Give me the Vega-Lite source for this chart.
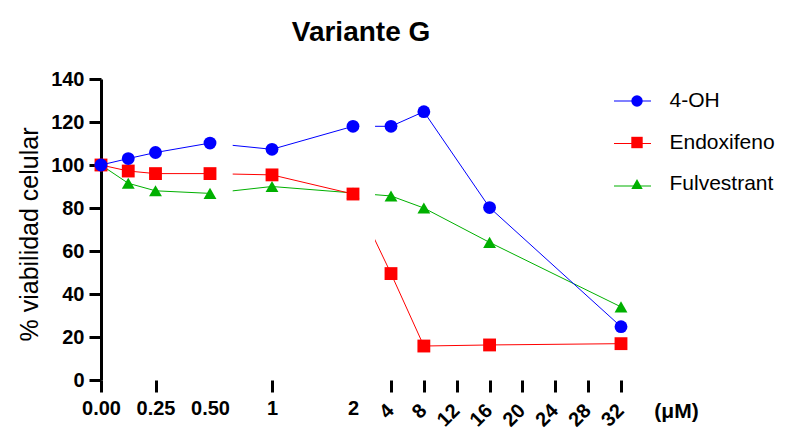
{
  "$schema": "https://vega.github.io/schema/vega-lite/v6.json",
  "autosize": {"type": "none"},
  "padding": {"left": 101, "top": 79, "right": 176, "bottom": 48},
  "width": 520,
  "height": 301,
  "background": "white",
  "config": {"view": {"stroke": null}, "font": "Liberation Sans"},
  "title": {"text": "Variante G", "fontSize": 28, "fontWeight": "bold", "font": "Liberation Sans", "color": "black", "anchor": "middle", "frame": "group", "baseline": "alphabetic", "offset": 0},
  "datasets": {
    "viab": [
      {"series": "Fulvestrant", "dose": 0, "v": 100},
      {"series": "Fulvestrant", "dose": 0.125, "v": 91.5},
      {"series": "Fulvestrant", "dose": 0.25, "v": 88},
      {"series": "Fulvestrant", "dose": 0.5, "v": 86.8},
      {"series": "Fulvestrant", "dose": 1, "v": 90},
      {"series": "Fulvestrant", "dose": 2, "v": 87},
      {"series": "Fulvestrant", "dose": 4, "v": 85.6},
      {"series": "Fulvestrant", "dose": 8, "v": 80},
      {"series": "Fulvestrant", "dose": 16, "v": 64},
      {"series": "Fulvestrant", "dose": 32, "v": 34},
      {"series": "Endoxifeno", "dose": 0, "v": 100},
      {"series": "Endoxifeno", "dose": 0.125, "v": 97.2},
      {"series": "Endoxifeno", "dose": 0.25, "v": 96},
      {"series": "Endoxifeno", "dose": 0.5, "v": 96},
      {"series": "Endoxifeno", "dose": 1, "v": 95.4},
      {"series": "Endoxifeno", "dose": 2, "v": 86.5},
      {"series": "Endoxifeno", "dose": 4, "v": 49.5},
      {"series": "Endoxifeno", "dose": 8, "v": 15.8},
      {"series": "Endoxifeno", "dose": 16, "v": 16.3},
      {"series": "Endoxifeno", "dose": 32, "v": 16.9},
      {"series": "4-OH", "dose": 0, "v": 100},
      {"series": "4-OH", "dose": 0.125, "v": 103},
      {"series": "4-OH", "dose": 0.25, "v": 105.8},
      {"series": "4-OH", "dose": 0.5, "v": 110.2},
      {"series": "4-OH", "dose": 1, "v": 107.3},
      {"series": "4-OH", "dose": 2, "v": 118},
      {"series": "4-OH", "dose": 4, "v": 118},
      {"series": "4-OH", "dose": 8, "v": 124.8},
      {"series": "4-OH", "dose": 16, "v": 80.2},
      {"series": "4-OH", "dose": 32, "v": 24.8}
    ],
    "breaks": [
      {"start": 0.5, "end": 0.683},
      {"start": 2, "end": 3.16}
    ],
    "segments": [
      {"start": 0, "end": 0.5},
      {"start": 0.683, "end": 2},
      {"start": 3.16, "end": 32}
    ],
    "caps": [
      {"at": 0.5},
      {"at": 0.683},
      {"at": 2},
      {"at": 3.16}
    ]
  },
  "encoding": {
    "x": {
      "field": "dose",
      "type": "quantitative",
      "scale": {"domain": [0, 0.5, 1, 2, 4, 32], "range": [0, 109, 171, 252, 290, 520], "nice": false, "zero": false},
      "axis": {
        "values": [0, 0.25, 0.5, 1, 2, 4, 8, 12, 16, 20, 24, 28, 32],
        "domain": false,
        "grid": false,
        "tickSize": 12,
        "tickWidth": 3,
        "tickColor": {"condition": {"test": "datum.value == 0.5 || datum.value == 2", "value": "transparent"}, "value": "black"},
        "labelExpr": "datum.value < 1 ? format(datum.value, '.2f') : format(datum.value, 'd')",
        "labelFont": "Liberation Sans",
        "labelFontSize": 20,
        "labelFontWeight": "bold",
        "labelColor": "black",
        "labelPadding": 6,
        "labelOverlap": false,
        "labelFlush": false,
        "labelBound": false,
        "encoding": {
          "labels": {
            "angle": {"condition": {"test": "datum.value >= 4", "value": -45}, "value": 0},
            "align": {"condition": {"test": "datum.value >= 4", "value": "right"}, "value": "center"},
            "baseline": {"condition": {"test": "datum.value >= 4", "value": "middle"}, "value": "top"},
            "dx": {"condition": {"test": "datum.value >= 4", "value": -7}, "value": 0},
            "dy": {"condition": {"test": "datum.value >= 4", "value": 6}, "value": 0}
          }
        },
        "title": "(μM)",
        "titleFont": "Liberation Sans",
        "titleFontSize": 21,
        "titleFontWeight": "bold",
        "titleColor": "black",
        "titleAngle": 0,
        "titleX": 575,
        "titleY": 31,
        "titleAlign": "center",
        "titleBaseline": "middle"
      }
    },
    "y": {
      "field": "v",
      "type": "quantitative",
      "scale": {"domain": [0, 140], "nice": false},
      "axis": {
        "values": [0, 20, 40, 60, 80, 100, 120, 140],
        "grid": false,
        "domainColor": "black",
        "domainWidth": 3,
        "tickColor": "black",
        "tickSize": 12,
        "tickWidth": 3,
        "labelFont": "Liberation Sans",
        "labelFontSize": 20,
        "labelFontWeight": "bold",
        "labelColor": "black",
        "labelPadding": 5,
        "title": "% viabilidad celular",
        "titleFont": "Liberation Sans",
        "titleFontSize": 25,
        "titleFontWeight": "normal",
        "titleColor": "black",
        "titlePadding": 8,
        "titleY": 155
      }
    }
  },
  "layer": [
    {
      "data": {"name": "viab"},
      "mark": {"type": "line", "strokeWidth": 1},
      "encoding": {
        "stroke": {"field": "series", "type": "nominal",
          "scale": {"domain": ["4-OH", "Endoxifeno", "Fulvestrant", "_"], "range": ["#0000ff", "#ff0000", "#00b000", "#000000"]},
          "legend": {
            "orient": "none",
            "legendX": 512,
            "legendY": 2.5,
            "values": ["4-OH", "Endoxifeno", "Fulvestrant"],
            "title": null,
            "padding": 0,
            "symbolType": "stroke",
            "symbolSize": 1370,
            "symbolStrokeWidth": 1.2,
            "rowPadding": 12.5,
            "labelOffset": 20,
            "labelExpr": "''",
            "labelFont": "Liberation Sans",
            "labelFontSize": 21,
            "labelColor": "transparent"
          }
        }
      }
    },
    {
      "data": {"name": "breaks"},
      "mark": {"type": "rect", "color": "white"},
      "encoding": {
        "x": {"field": "start", "type": "quantitative"},
        "x2": {"field": "end"},
        "y": null
      }
    },
    {
      "data": {"name": "segments"},
      "mark": {"type": "rule", "color": "black", "strokeWidth": 3},
      "encoding": {
        "x": {"field": "start", "type": "quantitative"},
        "x2": {"field": "end"},
        "y": {"datum": 0}
      }
    },
    {
      "data": {"name": "caps"},
      "mark": {"type": "rule", "color": "black", "strokeWidth": 3},
      "encoding": {
        "x": {"field": "at", "type": "quantitative"},
        "y": {"datum": -3.3},
        "y2": {"datum": 3.3}
      }
    },
    {
      "data": {"name": "viab"},
      "mark": {"type": "point", "filled": true, "opacity": 1, "strokeWidth": 0},
      "encoding": {
        "color": {"field": "series", "type": "nominal",
          "scale": {"domain": ["4-OH", "Endoxifeno", "Fulvestrant"], "range": ["#0000ff", "#ff0000", "#00b000"]},
          "legend": {
            "orient": "none",
            "legendX": 525.5,
            "legendY": 11.5,
            "title": null,
            "padding": 0,
            "symbolSize": 130,
            "symbolOpacity": 1,
            "rowPadding": 19.5,
            "labelOffset": 22,
            "labelFont": "Liberation Sans",
            "labelFontSize": 21,
            "labelColor": "black"
          }
        },
        "shape": {"field": "series", "type": "nominal", "scale": {"domain": ["4-OH", "Endoxifeno", "Fulvestrant"], "range": ["circle", "square", "triangle-up"]}},
        "size": {"value": 165}
      }
    }
  ]
}
